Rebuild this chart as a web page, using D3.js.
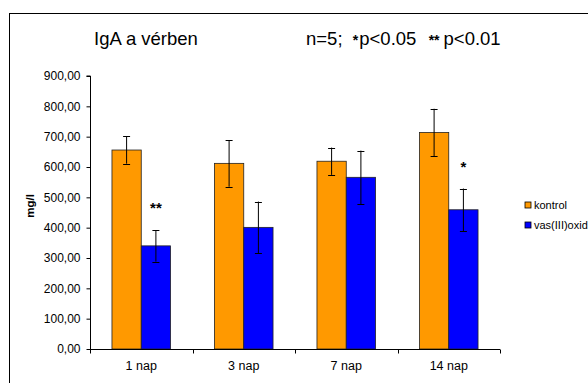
<!DOCTYPE html>
<html>
<head>
<meta charset="utf-8">
<script src="https://cdn.jsdelivr.net/npm/d3@7"></script>
<style>
  body { margin: 0; background: #fff; }
  svg { font-family: "Liberation Sans", Arial, sans-serif; }
</style>
</head>
<body>
<script>
// data
var days = ["1 nap", "3 nap", "7 nap", "14 nap"];
var seriesNames = ["kontrol", "vas(III)oxid"];
var kontrol = [656, 612, 619, 714];
var kontrolErr = [45, 77, 45, 78];
var vas = [340, 401, 566, 459];
var vasErr = [52, 85, 88, 70];
var stars = ["**", "", "", "*"];
var yTicks = [0, 100, 200, 300, 400, 500, 600, 700, 800, 900];

var colors = ["#ff9900", "#0000ff"];
var W = 588, H = 383;

var svg = d3.select("body").append("svg")
    .attr("width", W)
    .attr("height", H);

svg.append("rect")
    .attr("x", 9.5).attr("y", 13.5)
    .attr("width", 600).attr("height", 400)
    .attr("fill", "white").attr("stroke", "black").attr("stroke-width", 1);

var x = d3.scaleBand().domain(days).range([90, 500]);
var y = d3.scaleLinear().domain([0, 900]).range([349, 76]);

var barW = x.bandwidth() / 3.5;

var rows = days.map(function(d, i) {
  return [
    {day: d, k: 0, v: kontrol[i], e: kontrolErr[i]},
    {day: d, k: 1, v: vas[i], e: vasErr[i]}
  ];
});
var flat = d3.merge(rows);

function bx(d) { return x(d.day) + x.bandwidth() / 2 - barW + d.k * barW; }

// bars
svg.selectAll(".bar").data(flat).enter().append("rect")
    .attr("class", "bar")
    .attr("x", bx)
    .attr("y", function(d) { return y(d.v); })
    .attr("width", barW)
    .attr("height", function(d) { return y(0) - y(d.v); })
    .attr("fill", function(d) { return colors[d.k]; })
    .attr("stroke", "#222")
    .attr("stroke-width", 0.8);

// error bars
var eb = svg.selectAll(".err").data(flat).enter().append("g")
    .attr("class", "err")
    .attr("stroke", "black").attr("stroke-width", 1);
eb.append("line")
    .attr("x1", function(d) { return bx(d) + barW / 2; })
    .attr("x2", function(d) { return bx(d) + barW / 2; })
    .attr("y1", function(d) { return y(d.v + d.e); })
    .attr("y2", function(d) { return y(d.v - d.e); });
eb.each(function(d) {
  var g = d3.select(this), cx = bx(d) + barW / 2;
  [d.v + d.e, d.v - d.e].forEach(function(val) {
    g.append("line")
      .attr("x1", cx - 3.5).attr("x2", cx + 3.5)
      .attr("y1", Math.round(y(val)) + 0.5).attr("y2", Math.round(y(val)) + 0.5);
  });
});

// significance stars
svg.selectAll(".star").data(days).enter().append("text")
    .attr("class", "star")
    .attr("x", function(d) { return x(d) + x.bandwidth() / 2 + barW / 2; })
    .attr("y", function(d, i) { return y(vas[i] + vasErr[i]) - 17; })
    .attr("text-anchor", "middle")
    .style("font-size", "15px")
    .style("font-weight", "bold")
    .text(function(d, i) { return stars[i]; });

// y axis
var yAxis = svg.append("g")
    .attr("transform", "translate(90.5,0)")
    .call(d3.axisLeft(y).tickValues(yTicks).tickSize(4).tickPadding(6)
      .tickFormat(function(d) { return d3.format(".2f")(d).replace(".", ","); }));
yAxis.selectAll("text").style("font-size", "12px").attr("fill", "#000")
    .style("font-family", "Liberation Sans, Arial, sans-serif");
yAxis.select(".domain").attr("d", "M-4," + y(900) + "H0V" + y(0));

// x axis
var xAxis = svg.append("g")
    .attr("transform", "translate(0," + (y(0) + 0.5) + ")")
    .call(d3.axisBottom(x).tickSize(0).tickPadding(12));
xAxis.select(".domain").attr("d", "M90,0H500");
xAxis.selectAll("text").style("font-size", "12.5px").attr("fill", "#000")
    .style("font-family", "Liberation Sans, Arial, sans-serif");
xAxis.selectAll(".sep").data(d3.range(days.length + 1)).enter().append("line")
    .attr("class", "sep")
    .attr("x1", function(i) { return Math.round(90 + i * x.step()) + 0.5; })
    .attr("x2", function(i) { return Math.round(90 + i * x.step()) + 0.5; })
    .attr("y1", 0).attr("y2", 4)
    .attr("stroke", "black");

// y label
svg.append("text")
    .attr("transform", "translate(34,206) rotate(-90)")
    .attr("text-anchor", "middle")
    .style("font-size", "11.5px")
    .style("font-weight", "bold")
    .text("mg/l");

// titles
svg.append("text")
    .attr("x", 94).attr("y", 45)
    .style("font-size", "18.5px")
    .text("IgA a vérben");

var sub = svg.append("text")
    .attr("x", 306).attr("y", 45)
    .style("font-size", "18.5px")
    .style("white-space", "pre");
sub.append("tspan").text("n=5;  ");
sub.append("tspan").style("font-size", "14px").style("font-weight", "bold").text("*");
sub.append("tspan").attr("dx", 1).text("p<0.05  ");
sub.append("tspan").attr("dx", 2).style("font-size", "14px").style("font-weight", "bold").text("**");
sub.append("tspan").attr("dx", 4).text("p<0.01");

// legend
var leg = svg.selectAll(".leg").data(seriesNames).enter().append("g")
    .attr("class", "leg")
    .attr("transform", function(d, i) { return "translate(525," + (202 + i * 20) + ")"; });
leg.append("rect")
    .attr("width", 6).attr("height", 6)
    .attr("fill", function(d, i) { return colors[i]; })
    .attr("stroke", "black").attr("stroke-width", 0.8);
leg.append("text")
    .attr("x", 9).attr("y", 6.5)
    .style("font-size", "11px")
    .text(function(d) { return d; });
</script>
</body>
</html>
